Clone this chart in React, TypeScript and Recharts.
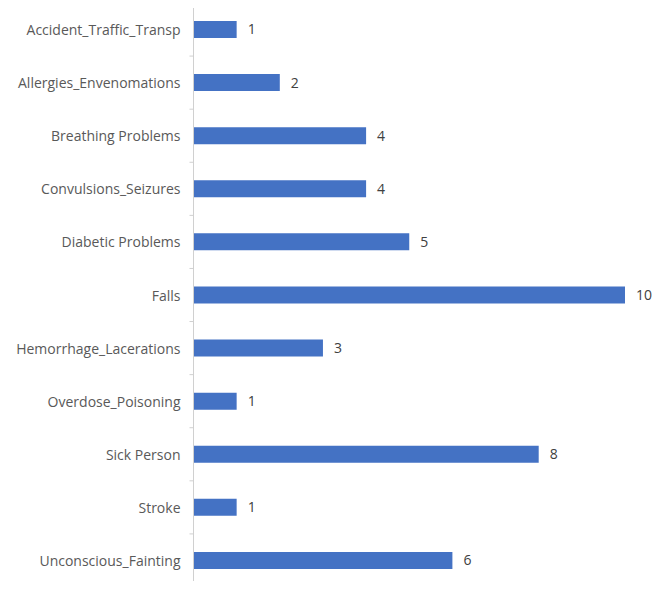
import { BarChart, Bar, XAxis, YAxis, LabelList } from "recharts";

const categories = [
  "Accident_Traffic_Transp",
  "Allergies_Envenomations",
  "Breathing Problems",
  "Convulsions_Seizures",
  "Diabetic Problems",
  "Falls",
  "Hemorrhage_Lacerations",
  "Overdose_Poisoning",
  "Sick Person",
  "Stroke",
  "Unconscious_Fainting",
];
const counts = [1, 2, 4, 4, 5, 10, 3, 1, 8, 1, 6];

const data = categories.map((name, i) => ({ name, count: counts[i] }));

const W = 660;
const H = 589;
const TOP = 3;
const BOTTOM = 2;
const band = (H - TOP - BOTTOM) / categories.length;
const FONT = "'Open Sans', 'Liberation Sans', Arial, sans-serif";

function CategoryTick(props: any) {
  const { x, y, payload, index } = props;
  return (
    <g>
      <text
        x={x - 13}
        y={y}
        textAnchor="end"
        dominantBaseline="central"
        fontSize={14}
        fill="#595959"
        fontFamily={FONT}
      >
        {payload.value}
      </text>
      <line x1={x - 4} x2={x} y1={y - band / 2} y2={y - band / 2} stroke="#d0d0d0" />
      {index === categories.length - 1 && (
        <line x1={x - 4} x2={x} y1={y + band / 2} y2={y + band / 2} stroke="#d0d0d0" />
      )}
    </g>
  );
}

export default function App() {
  return (
    <div style={{ margin: -8, width: W, height: H, background: "#fff" }}>
      <BarChart
        width={W}
        height={H}
        data={data}
        layout="vertical"
        margin={{ top: TOP, right: 35, bottom: BOTTOM, left: 0 }}
        barCategoryGap={0}
      >
        <XAxis type="number" domain={[0, 10]} hide />
        <YAxis
          type="category"
          dataKey="name"
          width={193.5}
          axisLine={{ stroke: "#d0d0d0" }}
          tickLine={false}
          tickSize={0}
          tickMargin={0}
          tick={<CategoryTick />}
          interval={0}
        />
        <Bar dataKey="count" fill="#4472C4" barSize={17} isAnimationActive={false}>
          <LabelList
            dataKey="count"
            position="right"
            offset={11}
            fill="#404040"
            fontSize={14}
            fontFamily={FONT}
          />
        </Bar>
      </BarChart>
    </div>
  );
}
